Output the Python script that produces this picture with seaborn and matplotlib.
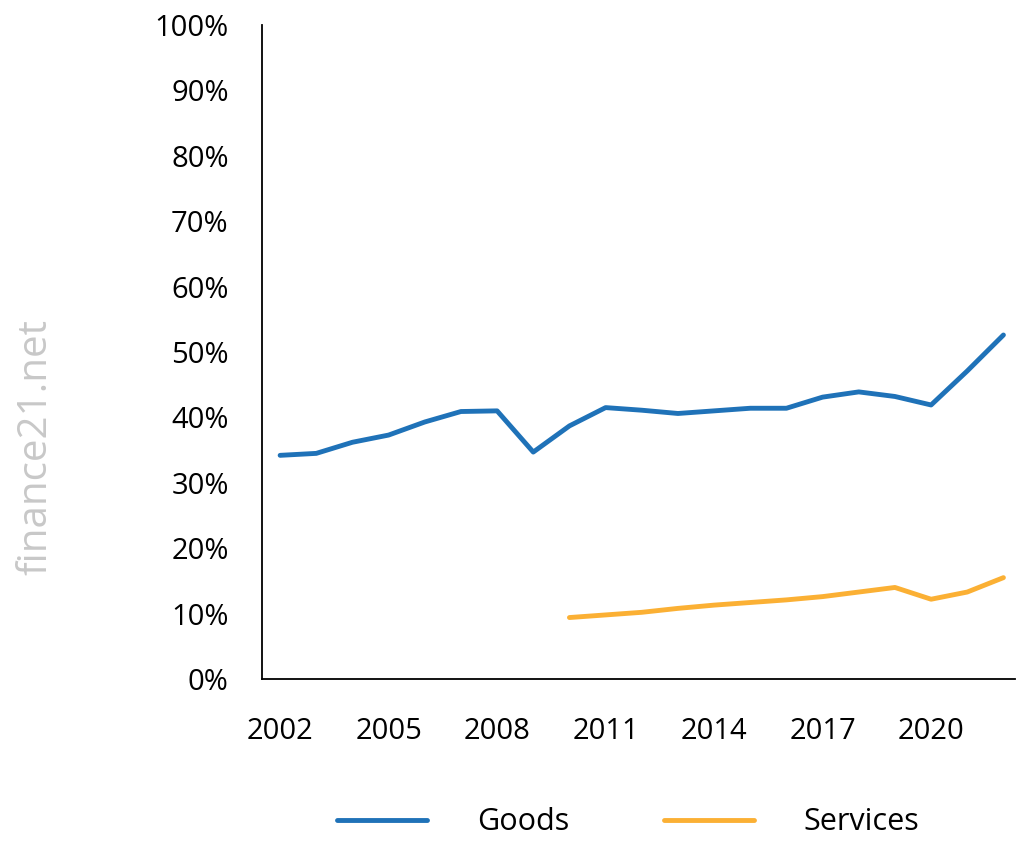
import matplotlib
matplotlib.use("Agg")
import matplotlib.pyplot as plt
import numpy as np
import pandas as pd
import seaborn as sns
from matplotlib.ticker import FuncFormatter

years = list(range(2002, 2023))
goods = [34.2, 34.5, 36.2, 37.3, 39.3, 40.9, 41.0, 34.7, 38.7, 41.5, 41.1,
         40.6, 41.0, 41.4, 41.4, 43.1, 43.9, 43.2, 41.9, 47.1, 52.6]
services_years = list(range(2010, 2023))
services = [9.4, 9.8, 10.2, 10.8, 11.3, 11.7, 12.1, 12.6, 13.3, 14.0, 12.2, 13.3, 15.5]
series_names = ["Goods", "Services"]
colors = ["#1f72b8", "#fbb034"]
x_ticks = [2002, 2005, 2008, 2011, 2014, 2017, 2020]
y_ticks = list(range(0, 101, 10))

df = pd.concat([
    pd.DataFrame({"year": years, "share": goods, "series": series_names[0]}),
    pd.DataFrame({"year": services_years, "share": services, "series": series_names[1]}),
])

sns.set_theme(style="white")
plt.rcParams["font.family"] = ["Open Sans", "DejaVu Sans"]

fig = plt.figure(figsize=(10.18, 8.41), dpi=100)
ax = fig.add_axes([0.2574, 0.1926, 0.74, 0.7777])

sns.lineplot(data=df, x="year", y="share", hue="series",
             palette=dict(zip(series_names, colors)), linewidth=3.5,
             ax=ax, legend=False, solid_capstyle="round")

ax.set_xlim(2001.5, 2022.33)
ax.set_ylim(0, 100)
ax.set_xticks(x_ticks)
ax.set_yticks(y_ticks)
ax.yaxis.set_major_formatter(FuncFormatter(lambda v, p: f"{int(v)}%"))
ax.tick_params(axis="both", length=0, labelsize=21, colors="black")
ax.tick_params(axis="y", pad=24)
ax.tick_params(axis="x", pad=27)
ax.set_xlabel("")
ax.set_ylabel("")
for side in ["top", "right"]:
    ax.spines[side].set_visible(False)
for side in ["left", "bottom"]:
    ax.spines[side].set_color("black")
    ax.spines[side].set_linewidth(1.3)

handles = [plt.Line2D([], [], color=c, lw=3.5, solid_capstyle="round") for c in colors]
leg = fig.legend(handles, series_names, loc="center", bbox_to_anchor=(0.617, 0.022),
                 ncol=2, frameon=False, fontsize=22, handlelength=2.95,
                 handletextpad=1.63, columnspacing=3.1, borderpad=0.2)
for t in leg.get_texts():
    t.set_color("black")

fig.text(0.035, 0.468, "finance21.net", rotation=90, ha="center", va="center",
         fontsize=29, color="#c8c8c8")

fig.savefig("out.png", dpi=100)
